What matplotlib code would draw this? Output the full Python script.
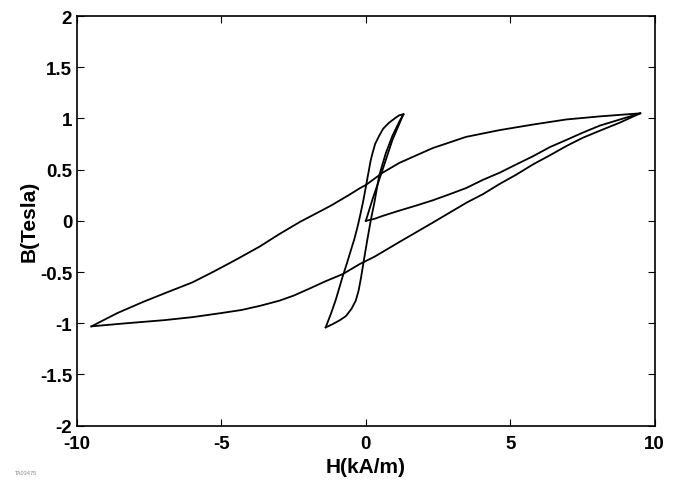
import matplotlib
matplotlib.use("Agg")
import matplotlib.pyplot as plt

# initial magnetisation curve, large excursion
init_big_h = [0, 0.3, 0.6, 1.16, 1.75, 2.31, 2.9, 3.47, 4.05, 4.63, 5.2, 5.78, 6.37, 6.94, 7.5, 8.1, 8.8, 9.5]
init_big_b = [0, 0.02, 0.05, 0.10, 0.15, 0.20, 0.26, 0.32, 0.40, 0.47, 0.55, 0.63, 0.72, 0.79, 0.86, 0.93, 0.99, 1.05]

# large loop, descending branch
big_dn_h = [9.5, 8.1, 6.94, 5.78, 4.63, 3.47, 2.31, 1.16, 0.58, 0.0, -0.2, -0.6, -1.2, -2.28, -3.0, -3.67,
            -4.5, -5.3, -6.0, -6.9, -7.7, -8.6, -9.5]
big_dn_b = [1.05, 1.02, 0.99, 0.94, 0.886, 0.82, 0.71, 0.566, 0.47, 0.35, 0.32, 0.25, 0.15, -0.01, -0.13, -0.25,
            -0.38, -0.50, -0.60, -0.70, -0.79, -0.90, -1.03]

# large loop, ascending branch
big_up_h = [-9.5, -8.3, -7.0, -6.0, -5.0, -4.3, -3.67, -3.0, -2.5, -1.94, -1.4, -0.8, -0.2, 0.3, 0.6, 1.2,
            1.75, 2.3, 2.9, 3.5, 4.05, 4.63, 5.2, 5.78, 6.37, 6.94, 7.5, 8.1, 8.8, 9.5]
big_up_b = [-1.03, -1.0, -0.97, -0.94, -0.90, -0.87, -0.83, -0.78, -0.73, -0.66, -0.59, -0.52, -0.42, -0.35, -0.30, -0.20,
            -0.11, -0.02, 0.08, 0.18, 0.26, 0.36, 0.45, 0.55, 0.64, 0.73, 0.81, 0.88, 0.96, 1.05]

# initial magnetisation curve, small excursion
init_small_h = [0, 0.23, 0.58, 0.92, 1.3]
init_small_b = [0, 0.21, 0.50, 0.79, 1.04]

# small loop, descending branch
small_dn_h = [1.3, 1.15, 1.0, 0.81, 0.6, 0.46, 0.32, 0.23, 0.16, 0.11, 0.05, 0.0, -0.1, -0.2, -0.28, -0.4, -0.5,
              -0.65, -0.81, -1.04, -1.2, -1.39]
small_dn_b = [1.04, 1.03, 1.0, 0.96, 0.90, 0.83, 0.75, 0.66, 0.58, 0.50, 0.41, 0.33, 0.18, 0.05, -0.05, -0.18, -0.27,
              -0.41, -0.55, -0.77, -0.90, -1.04]

# small loop, ascending branch
small_up_h = [-1.39, -1.16, -0.9, -0.69, -0.5, -0.35, -0.25, -0.17, -0.06, 0.06, 0.18, 0.29, 0.46, 0.69, 0.92, 1.16, 1.3]
small_up_b = [-1.04, -1.01, -0.97, -0.93, -0.86, -0.78, -0.68, -0.56, -0.37, -0.17, 0.02, 0.17, 0.44, 0.66, 0.83, 0.97, 1.04]

x_ticks = [-10, -5, 0, 5, 10]
y_ticks = [-2, -1.5, -1, -0.5, 0, 0.5, 1, 1.5, 2]
y_ticklabels = ["-2", "-1.5", "-1", "-0.5", "0", "0.5", "1", "1.5", "2"]

plt.rcParams["font.family"] = ["Liberation Sans", "DejaVu Sans"]
plt.rcParams["font.weight"] = "bold"

fig = plt.figure(figsize=(6.73, 4.89), dpi=100)
ax = fig.add_axes([0.1144, 0.1274, 0.8584, 0.8378])

curves = [(init_big_h, init_big_b), (big_dn_h, big_dn_b), (big_up_h, big_up_b),
          (init_small_h, init_small_b), (small_dn_h, small_dn_b), (small_up_h, small_up_b)]
for h, b in curves:
    ax.plot(h, b, color="black", lw=1.3, solid_joinstyle="round")

ax.set_xlim(-10, 10)
ax.set_ylim(-2, 2)
ax.set_xticks(x_ticks)
ax.set_xticklabels([str(t) for t in x_ticks])
ax.set_yticks(y_ticks)
ax.set_yticklabels(y_ticklabels)
ax.tick_params(direction="in", length=5, width=0.8, top=True, right=True, labelsize=13.5)
ax.tick_params(axis="x", pad=7)
ax.tick_params(axis="y", pad=3.5)
for s in ax.spines.values():
    s.set_linewidth(1.2)
ax.set_xlabel("H(kA/m)", fontsize=15, fontweight="bold", labelpad=3)
ax.set_ylabel("B(Tesla)", fontsize=15, fontweight="bold", labelpad=1)

fig.text(0.022, 0.028, "TA03475", fontsize=4, color="#888888", fontweight="normal")

fig.savefig("out.png", dpi=100)
